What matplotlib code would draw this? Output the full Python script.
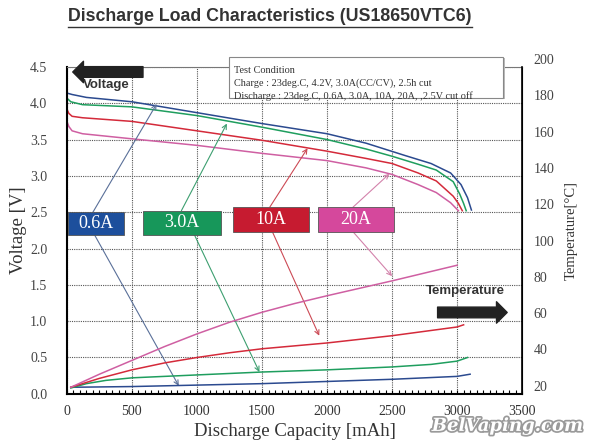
import matplotlib
matplotlib.use('Agg')
import matplotlib.pyplot as plt
import matplotlib.transforms as mtransforms
import matplotlib.patheffects as pe
from matplotlib.patches import Rectangle
from matplotlib.lines import Line2D
from matplotlib.ticker import MultipleLocator

# discharge curves, capacity in mAh and voltage in V
blue_cap = [0, 40, 150, 500, 1000, 1500, 2000, 2300, 2600, 2800, 2950, 3030, 3080, 3110]
blue_volt = [4.14, 4.12, 4.08, 4.02, 3.87, 3.72, 3.58, 3.45, 3.28, 3.17, 3.04, 2.88, 2.70, 2.53]
green_cap = [0, 30, 120, 500, 1000, 1500, 2000, 2300, 2500, 2700, 2840, 2970, 3020, 3050, 3070]
green_volt = [4.07, 4.02, 3.98, 3.95, 3.83, 3.67, 3.50, 3.37, 3.27, 3.16, 3.08, 2.92, 2.75, 2.62, 2.52]
red_cap = [0, 15, 40, 120, 500, 1000, 1500, 2000, 2300, 2500, 2700, 2840, 2970, 3010, 3040]
red_volt = [3.92, 3.86, 3.82, 3.80, 3.75, 3.62, 3.49, 3.34, 3.24, 3.17, 3.04, 2.93, 2.72, 2.62, 2.52]
pink_cap = [0, 15, 40, 120, 500, 1000, 1500, 2000, 2300, 2500, 2700, 2840, 2950, 3010]
pink_volt = [3.75, 3.68, 3.62, 3.58, 3.51, 3.42, 3.31, 3.21, 3.11, 3.02, 2.88, 2.77, 2.63, 2.52]

# cell temperature curves in deg C
blue_tcap = [30, 500, 1000, 1500, 2000, 2500, 3000, 3100]
blue_temp = [23.6, 24.0, 24.8, 25.6, 26.8, 28.0, 29.6, 30.8]
green_tcap = [30, 150, 300, 500, 1000, 1500, 2000, 2500, 2800, 3000, 3080]
green_temp = [23.2, 25.6, 27.4, 28.8, 30.4, 32.0, 33.2, 34.8, 36.2, 38.0, 40.0]
red_tcap = [30, 250, 500, 750, 1000, 1250, 1500, 1750, 2000, 2250, 2500, 2750, 3000, 3050]
red_temp = [23.6, 28.5, 33.2, 37.0, 40.0, 42.6, 44.8, 46.4, 48.0, 50.0, 52.0, 54.4, 56.8, 58.0]
pink_tcap = [30, 250, 500, 750, 1000, 1250, 1500, 1750, 2000, 2250, 2500, 2750, 3000]
pink_temp = [23.6, 30.8, 38.4, 46.0, 53.0, 59.4, 64.9, 69.7, 74.0, 78.1, 82.2, 86.5, 90.8]

currents = ['0.6A', '3.0A', '10A', '20A']
line_colors = ['#2b4a8f', '#1f9e5e', '#d42a3a', '#cf5fa2']
box_colors = ['#1d4f9c', '#17975a', '#c61b30', '#d5489c']
arrow_colors = ['#5a7099', '#3d9f70', '#cc4a55', '#d382ab']

x_ticks = [0, 500, 1000, 1500, 2000, 2500, 3000, 3500]
volt_ticks = [0.0, 0.5, 1.0, 1.5, 2.0, 2.5, 3.0, 3.5, 4.0, 4.5]
temp_ticks = [20, 40, 60, 80, 100, 120, 140, 160, 180, 200]

serif = 'Liberation Serif'

fig = plt.figure(figsize=(5.92, 4.46), dpi=100)
ax = fig.add_axes([0.113, 0.117, 0.769, 0.733])
ax2 = ax.twinx()

# voltage on the left axis
for cap, volt, col in zip([blue_cap, green_cap, red_cap, pink_cap],
                          [blue_volt, green_volt, red_volt, pink_volt], line_colors):
    ax.plot(cap, volt, color=col, lw=1.1)

# temperature on the right axis
for cap, temp, col in zip([blue_tcap, green_tcap, red_tcap, pink_tcap],
                          [blue_temp, green_temp, red_temp, pink_temp], line_colors):
    ax2.plot(cap, temp, color=col, lw=1.1)

ax.set_xlim(0, 3500)
ax.set_ylim(0, 4.5)
ax2.set_ylim(20, 200)
ax.set_xticks(x_ticks)
ax.set_yticks(volt_ticks)
ax.set_yticklabels(['%.1f' % v for v in volt_ticks])
ax2.set_yticks(temp_ticks)
ax.xaxis.set_minor_locator(MultipleLocator(50))

ax.grid(True, color='#555555', linestyle=(0, (1, 1)), lw=0.8)
ax.set_axisbelow(True)

ax.tick_params(axis='x', which='both', direction='in', length=3, width=0.8, pad=8,
               labelsize=10, labelcolor='#333333')
ax.tick_params(axis='y', length=0, pad=14, labelsize=10, labelcolor='#444444')
ax2.tick_params(axis='y', length=0, pad=8, labelsize=10, labelcolor='#444444')

for lab in ax.get_xticklabels() + ax.get_yticklabels() + ax2.get_yticklabels():
    lab.set_fontfamily(serif)
# right hand labels sit a little higher in the original
shift = mtransforms.ScaledTranslation(0, 8 / 100, fig.dpi_scale_trans)
for lab in ax2.get_yticklabels():
    lab.set_transform(lab.get_transform() + shift)

for name in ['left', 'bottom']:
    ax.spines[name].set_linewidth(1.5)
ax.spines['top'].set_color('#777777')
ax.spines['top'].set_linewidth(0.8)
ax2.spines['top'].set_visible(False)
ax2.spines['left'].set_visible(False)
ax2.spines['bottom'].set_visible(False)
ax2.spines['right'].set_linewidth(1.2)

ax.set_xlabel('Discharge Capacity [mAh]', fontfamily=serif, fontsize=13.5, color='#333333', labelpad=4)
ax.set_ylabel('Voltage [V]', fontfamily=serif, fontsize=13.5, color='#333333', labelpad=2)
ax2.set_ylabel('Temperature[°C]', fontfamily=serif, fontsize=10.5, color='#333333', labelpad=8)

# coloured current labels with arrows to the voltage and temperature curves
box_x = [(10, 440), (585, 1185), (1277, 1862), (1931, 2515)]
box_y = [(2.18, 2.50), (2.19, 2.52), (2.23, 2.57), (2.23, 2.57)]
up_arrows = [((200, 2.50), (690, 3.99)), ((880, 2.52), (1230, 3.72)),
             ((1560, 2.57), (1850, 3.38)), ((2200, 2.57), (2480, 3.03))]
down_arrows = [((215, 2.18), (860, 0.11)), ((980, 2.19), (1480, 0.30)),
               ((1580, 2.23), (1940, 0.80)), ((2200, 2.23), (2500, 1.62))]

for i in range(4):
    x0, x1 = box_x[i]
    y0, y1 = box_y[i]
    ax.add_patch(Rectangle((x0, y0), x1 - x0, y1 - y0, facecolor=box_colors[i],
                           edgecolor='#555555', lw=0.6, zorder=5))
    ax.text((x0 + x1) / 2, (y0 + y1) / 2, currents[i], color='white', fontfamily=serif,
            fontsize=13, ha='center', va='center', zorder=6)
    for start, end in [up_arrows[i], down_arrows[i]]:
        ax.annotate('', xy=end, xytext=start, zorder=4,
                    arrowprops=dict(arrowstyle='->', color=arrow_colors[i], lw=0.8,
                                    mutation_scale=8, shrinkA=0, shrinkB=0))

# thick black direction arrows
ax.annotate('', xy=(45, 4.43), xytext=(585, 4.43), zorder=6,
            arrowprops=dict(arrowstyle='simple,head_length=0.7,head_width=1.4,tail_width=0.7',
                            color='#222222', mutation_scale=11, shrinkA=0, shrinkB=0))
ax.text(300, 4.25, 'Voltage', fontfamily='Liberation Sans', fontweight='bold',
        fontsize=9.5, color='#333333', ha='center', va='center')
ax.annotate('', xy=(3385, 1.12), xytext=(2850, 1.12), zorder=6,
            arrowprops=dict(arrowstyle='simple,head_length=0.7,head_width=1.4,tail_width=0.7',
                            color='#222222', mutation_scale=11, shrinkA=0, shrinkB=0))
ax.text(3060, 1.41, 'Temperature', fontfamily='Liberation Sans', fontweight='bold',
        fontsize=9.5, color='#333333', ha='center', va='center')

# test condition box, partly over the top border
fig.patches.append(Rectangle((0.390, 0.777), 0.463, 0.092, transform=fig.transFigure,
                             facecolor='#bbbbbb', edgecolor='none', zorder=9))
fig.patches.append(Rectangle((0.387, 0.781), 0.463, 0.092, transform=fig.transFigure,
                             facecolor='white', edgecolor='#888888', lw=0.8, zorder=10))
cond_lines = ['Test Condition',
              'Charge : 23deg.C, 4.2V, 3.0A(CC/CV), 2.5h cut',
              'Discharge : 23deg.C, 0.6A, 3.0A, 10A, 20A, ,2.5V cut off']
for k, line in enumerate(cond_lines):
    fig.text(0.396, 0.842 - k * 0.029, line, fontfamily=serif, fontsize=7.4,
             color='#333333', va='center', zorder=11)

# underlined title
title = fig.text(0.456, 0.962, 'Discharge Load Characteristics (US18650VTC6)',
                 fontfamily='Liberation Sans', fontweight='bold', fontsize=12.8,
                 color='#333333', ha='center', va='center')
fig.canvas.draw()
bb = title.get_window_extent().transformed(fig.transFigure.inverted())
fig.add_artist(Line2D([bb.x0, bb.x1], [bb.y0 - 0.004, bb.y0 - 0.004],
                      color='#333333', lw=1.0))

# watermark
fig.text(0.857, 0.045, 'BelVaping.com', fontfamily='DejaVu Serif', fontstyle='italic',
         fontweight='bold', fontsize=13, color='white', ha='center', va='center',
         path_effects=[pe.withStroke(linewidth=2.5, foreground='#9a9a9a')])

fig.savefig('out.png', dpi=100)
